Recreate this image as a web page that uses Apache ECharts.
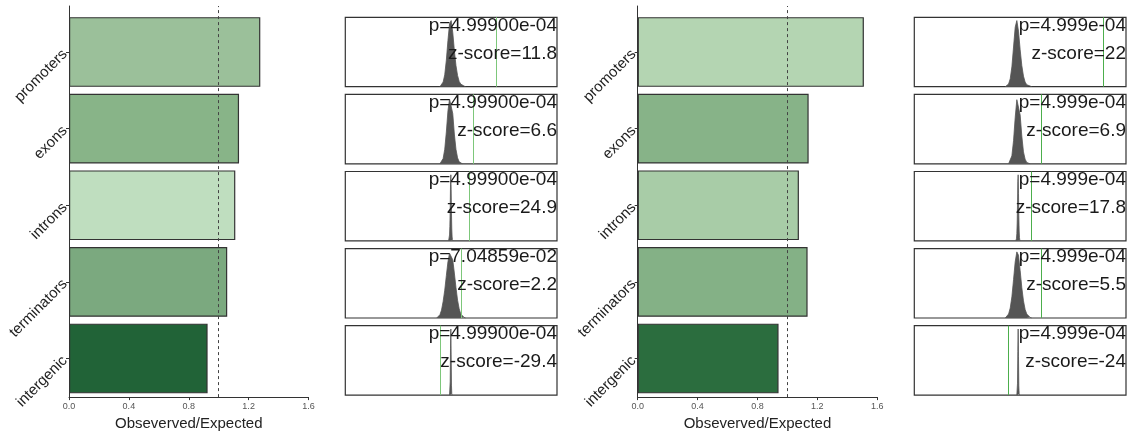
<!DOCTYPE html>
<html>
<head>
<meta charset="utf-8">
<script src="https://cdn.jsdelivr.net/npm/echarts@6/dist/echarts.min.js"></script>
<style>
  html, body { margin: 0; padding: 0; background: #ffffff; }
  #chart { width: 1135px; height: 436px; }
</style>
</head>
<body>
<div id="chart"></div>
<script>
// Genomic regions (top to bottom)
const regions = ['promoters', 'exons', 'introns', 'terminators', 'intergenic'];

// Observed / expected ratios, left and right sets
const ratioLeft  = [1.278, 1.136, 1.111, 1.057, 0.926];
const ratioRight = [1.511, 1.142, 1.077, 1.135, 0.941];

// Permutation test results
const pLabelsLeft  = ['4.99900e-04', '4.99900e-04', '4.99900e-04', '7.04859e-02', '4.99900e-04'];
const pLabelsRight = ['4.999e-04', '4.999e-04', '4.999e-04', '4.999e-04', '4.999e-04'];
const zScoresLeft  = [11.8, 6.6, 24.9, 2.2, -29.4];
const zScoresRight = [22, 6.9, 17.8, 5.5, -24];

// Ratio axis ticks
const ratioTicks = [0.0, 0.4, 0.8, 1.2, 1.6];

// Null (shuffled) distributions of the ratio: first bin centre, bin width, counts
const nullStartLeft = [0.93, 0.93, 0.984, 0.91, 0.990];
const nullStepLeft  = [0.01, 0.01, 0.002, 0.01, 0.002];
const nullCountsLeft = [
  [0, 2, 7, 18, 40, 70, 95, 100, 82, 55, 32, 17, 8, 4, 2, 1, 0],
  [0, 2, 8, 22, 48, 80, 98, 100, 76, 45, 22, 9, 3, 1, 0],
  [0, 1, 3, 9, 22, 48, 85, 100, 78, 42, 18, 6, 2, 1, 0],
  [0, 2, 5, 12, 25, 42, 64, 85, 98, 100, 88, 68, 46, 27, 14, 6, 3, 1, 0],
  [0, 3, 20, 70, 100, 62, 15, 2, 0]
];
const nullStartRight = [0.92, 0.94, 0.984, 0.92, 0.990];
const nullStepRight  = [0.01, 0.01, 0.002, 0.01, 0.002];
const nullCountsRight = [
  [0, 1, 4, 12, 30, 60, 90, 100, 84, 56, 32, 16, 7, 3, 2, 1, 0],
  [0, 3, 12, 35, 70, 97, 100, 74, 42, 18, 7, 2, 1, 0],
  [0, 1, 4, 11, 27, 55, 90, 100, 72, 38, 15, 5, 1, 0],
  [0, 2, 6, 15, 32, 58, 85, 100, 95, 72, 46, 26, 13, 6, 3, 1, 0],
  [0, 2, 18, 66, 100, 58, 14, 2, 0]
];

// Styling
const barColorsLeft  = ['#9bc09a', '#88b488', '#bfdebf', '#7ba97f', '#216337'];
const barColorsRight = ['#b4d5b2', '#87b388', '#a8cca7', '#84b186', '#2b6d3e'];
const FONT = '"Liberation Sans", Arial, Helvetica, sans-serif';
const INK = '#333333';

const grids = [], xAxes = [], yAxes = [], series = [], titles = [];

// Horizontal bar panel: one grid carries the axes frame + reference line,
// a second (category) grid carries the bars and region labels.
function addBarPanel(left, values, colors) {
  const width = 239.5;
  const gFrame = grids.length;
  grids.push({ left: left, width: width, top: 6, height: 397 });
  xAxes.push({
    gridIndex: gFrame, type: 'value',
    min: ratioTicks[0], max: ratioTicks[ratioTicks.length - 1], interval: ratioTicks[1] - ratioTicks[0],
    axisLine: { show: true, lineStyle: { color: INK, width: 1 } },
    axisTick: { show: true, length: 3, lineStyle: { color: INK } },
    axisLabel: { fontSize: 9, color: '#555', margin: 5, fontFamily: FONT, formatter: v => v.toFixed(1) },
    splitLine: { show: false },
    name: 'Obseverved/Expected', nameLocation: 'middle', nameGap: 15,
    nameTextStyle: { fontSize: 15, color: '#222', fontFamily: FONT }
  });
  yAxes.push({
    gridIndex: gFrame, type: 'value', min: 0, max: 1,
    axisLine: { show: true, lineStyle: { color: INK, width: 1 } },
    axisTick: { show: false }, axisLabel: { show: false }, splitLine: { show: false }
  });
  series.push({
    type: 'line', xAxisIndex: gFrame, yAxisIndex: gFrame, data: [], silent: true,
    markLine: {
      symbol: 'none', silent: true, label: { show: false },
      lineStyle: { type: [3, 3], color: '#444', width: 1 },
      data: [{ xAxis: 1 }]
    }
  });

  const gBar = grids.length;
  grids.push({ left: left, width: width, top: 13.7, height: 383.1 });
  xAxes.push({
    gridIndex: gBar, type: 'value',
    min: ratioTicks[0], max: ratioTicks[ratioTicks.length - 1], show: false
  });
  yAxes.push({
    gridIndex: gBar, type: 'category', inverse: true, data: regions,
    axisLine: { show: false },
    axisTick: { show: true, alignWithLabel: true, length: 3, lineStyle: { color: INK } },
    axisLabel: { rotate: 45, fontSize: 15, color: '#222', margin: 4, fontFamily: FONT }
  });
  series.push({
    type: 'bar', xAxisIndex: gBar, yAxisIndex: gBar, barCategoryGap: '9%',
    itemStyle: { borderColor: INK, borderWidth: 1.2 },
    data: values.map((v, i) => ({ value: v, itemStyle: { color: colors[i] } }))
  });
}

// Column of null-distribution panels with the observed ratio marked in green
function addNullPanels(left, range, starts, steps, counts, ratios, pLabels, zScores, lineColor) {
  const width = 211.7, height = 69.4;
  for (let i = 0; i < regions.length; i++) {
    const top = 17.3 + i * 77.1;
    const g = grids.length;
    grids.push({
      left: left, width: width, top: top, height: height,
      show: true, borderColor: INK, borderWidth: 1.2, backgroundColor: 'transparent'
    });
    xAxes.push({ gridIndex: g, type: 'value', min: range[0], max: range[1], show: false });
    yAxes.push({ gridIndex: g, type: 'value', min: 0, max: v => v.max * 1.05, show: false });
    series.push({
      type: 'line', xAxisIndex: g, yAxisIndex: g, symbol: 'none', silent: true,
      data: counts[i].map((c, k) => [starts[i] + k * steps[i], c]),
      lineStyle: { color: '#555', width: 0.8 },
      areaStyle: { color: '#555', opacity: 1 },
      markLine: {
        symbol: 'none', silent: true, label: { show: false },
        lineStyle: { color: lineColor, width: 1, type: 'solid', opacity: 1 },
        emphasis: { disabled: true },
        data: [{ xAxis: ratios[i] }]
      }
    });
    const right = 1135 - (left + width);
    const textStyle = { fontSize: 19, fontWeight: 'normal', color: '#1a1a1a', fontFamily: FONT };
    titles.push({ text: 'p=' + pLabels[i], right: right, top: top - 1.5, padding: 0, textStyle: textStyle });
    titles.push({ text: 'z-score=' + zScores[i], right: right, top: top + 26.5, padding: 0, textStyle: textStyle });
  }
}

addBarPanel(69, ratioLeft, barColorsLeft);
addNullPanels(345.3, [0.34, 1.66], nullStartLeft, nullStepLeft, nullCountsLeft,
  ratioLeft, pLabelsLeft, zScoresLeft, '#7dc77a');
addBarPanel(637.7, ratioRight, barColorsRight);
addNullPanels(914.3, [0.37, 1.65], nullStartRight, nullStepRight, nullCountsRight,
  ratioRight, pLabelsRight, zScoresRight, '#4cae4c');

const chart = echarts.init(document.getElementById('chart'), null, { renderer: 'canvas' });
chart.setOption({
  animation: false,
  backgroundColor: '#ffffff',
  textStyle: { fontFamily: FONT },
  title: titles,
  grid: grids,
  xAxis: xAxes,
  yAxis: yAxes,
  series: series
});
</script>
</body>
</html>
